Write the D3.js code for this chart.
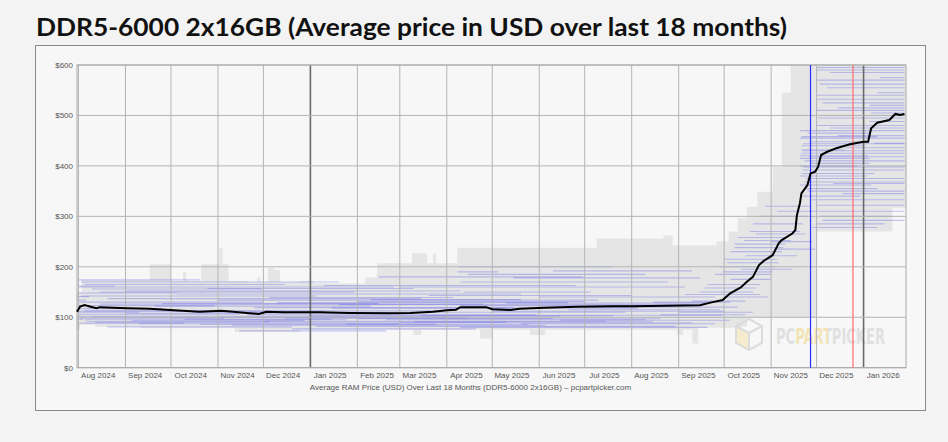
<!DOCTYPE html>
<html>
<head>
<meta charset="utf-8">
<script src="https://cdn.jsdelivr.net/npm/d3@7"></script>
<style>
  body { margin: 0; background: #f3f3f3; }
  svg { display: block; }
</style>
</head>
<body>
<svg id="chart" width="948" height="442"></svg>
<script>
// Average price (black line)
var avgDates = ["2024-07-31","2024-08-02","2024-08-05","2024-08-09","2024-08-13","2024-08-15","2024-09-02","2024-09-17","2024-09-30",
  "2024-10-20","2024-11-03","2024-11-11","2024-11-20","2024-11-28","2024-12-03","2024-12-14","2025-01-01","2025-01-07","2025-01-27",
  "2025-02-22","2025-03-08","2025-03-23","2025-04-01","2025-04-07","2025-04-10","2025-04-27","2025-05-01","2025-05-13","2025-05-19",
  "2025-06-04","2025-06-26","2025-07-20","2025-08-02","2025-09-15","2025-09-22","2025-09-30","2025-10-05","2025-10-12","2025-10-16",
  "2025-10-20","2025-10-24","2025-10-27","2025-11-02","2025-11-06","2025-11-08","2025-11-15","2025-11-17","2025-11-18","2025-11-20",
  "2025-11-21","2025-11-25","2025-11-27","2025-11-30","2025-12-02","2025-12-04","2025-12-08","2025-12-14","2025-12-23","2026-01-01",
  "2026-01-04","2026-01-06","2026-01-10","2026-01-18","2026-01-22","2026-01-25","2026-01-28"];
var avgPrices = [111,121,124,121,118,120,118,117,114.5,
  111,113,111,108.5,106.5,111,110,110,110,108.4,
  108,108.5,111,114,115,120,120,116,114.5,117,
  119,121,122,122,123.7,129,134,147.5,159,170.5,
  180,203.5,211.5,223,246.5,253,266,273,302,326,
  345.7,362,385,388.5,398,421.6,428,435,443,448,
  448,474.5,485.6,491,503,501,503];

// Min / max price envelope (grey band, step starts)
var bandDates = ["2024-07-31","2024-08-02","2024-08-03","2024-08-12","2024-09-11","2024-09-17","2024-10-01","2024-10-09","2024-10-11",
  "2024-10-21","2024-11-02","2024-11-04","2024-11-08","2024-11-12","2024-11-21","2024-11-27","2024-11-29","2024-12-04","2024-12-08",
  "2024-12-12","2024-12-25","2025-01-03","2025-02-06","2025-02-14","2025-03-09","2025-03-10","2025-03-15","2025-03-19","2025-03-23",
  "2025-03-25","2025-04-08","2025-04-23","2025-05-01","2025-05-26","2025-06-05","2025-07-09","2025-08-22","2025-08-28","2025-08-31",
  "2025-09-04","2025-09-10","2025-09-14","2025-09-26","2025-10-04","2025-10-10","2025-10-16","2025-10-23","2025-11-02","2025-11-08",
  "2025-11-14","2025-12-01","2026-01-20","2026-01-29"];
var bandLow = [75,85,85,81,78,78,78,78,78,
  78,78,78,78,71,71,71,71,71,71,
  71,75,75,75,75,75,65,75,75,75,
  75,75,58,75,65,75,75,75,75,65,
  75,48,79,79,79,81,100,100,100,100,
  100,270,316,316];
var bandHigh = [150,150,174,174,174,205,172,190,172,
  205,238,205,172,172,170,180,170,198,194,
  170,172,167,179,207,227,227,227,207,227,
  207,238,238,238,238,238,256,262,242,242,
  242,242,242,250,270,296,319,349,398,545,
  600,600,600,600];

// Individual listing prices (faint blue segments): start, end, price
var listings = [
  ["2024-07-31","2024-08-08",141],["2024-07-31","2024-08-06",134],["2024-07-31","2024-08-04",96],
  ["2024-08-01","2024-10-20",174],["2024-08-03","2025-01-20",170],["2024-08-05","2024-12-15",165],
  ["2024-08-01","2025-02-25",160],["2024-08-10","2024-11-30",156],["2024-09-01","2025-04-10",152],
  ["2024-08-01","2024-10-05",148],["2024-10-05","2025-05-20",146],["2024-08-03","2025-01-05",142],
  ["2024-08-20","2025-03-15",137],["2024-11-01","2025-07-10",134],["2024-08-01","2024-12-01",130],
  ["2024-12-10","2025-06-20",129],["2024-08-15","2025-04-25",126],["2024-09-20","2025-02-10",122],
  ["2024-08-01","2024-09-25",117],["2025-01-15","2025-08-05",118],["2024-08-05","2025-03-30",113],
  ["2024-10-15","2025-07-28",110],["2024-08-01","2024-11-15",106],["2024-11-20","2025-05-30",105],
  ["2024-08-01","2025-06-15",102],["2024-08-10","2024-10-25",100],["2024-10-01","2025-04-15",99],
  ["2025-02-01","2025-08-20",97],["2024-08-05","2025-01-25",95],["2024-09-05","2024-12-28",93],
  ["2024-12-01","2025-07-15",92],["2024-08-12","2025-05-10",90],["2025-03-01","2025-09-10",89],
  ["2024-08-01","2024-10-10",88],["2024-10-20","2025-03-25",86],["2024-11-10","2025-06-05",84],
  ["2025-01-05","2025-08-30",82],["2024-08-20","2024-12-20",81],["2024-12-20","2025-04-20",77],
  ["2025-04-10","2025-09-20",80],["2024-11-15","2025-02-20",73],["2025-04-12","2025-07-05",150],
  ["2025-04-08","2025-05-05",190],["2025-04-10","2025-08-25",170],["2025-03-01","2025-09-05",160],
  ["2025-05-15","2025-09-15",178],["2025-02-15","2025-06-30",180],["2025-06-01","2025-09-25",140],
  ["2025-01-20","2025-09-15",125],["2025-05-01","2025-10-01",112],["2025-03-15","2025-09-30",104],
  ["2025-06-15","2025-10-05",94],["2025-02-10","2025-05-20",135],["2025-07-01","2025-10-10",120],
  ["2024-08-01","2024-09-10",110],["2024-08-02","2024-11-05",98],["2024-08-01","2025-01-10",112],
  ["2024-09-01","2025-02-05",108],["2024-10-10","2025-01-15",96],["2024-11-01","2025-04-01",100],
  ["2024-12-15","2025-06-10",98],["2025-01-01","2025-07-20",103],["2025-02-20","2025-08-10",95],
  ["2025-03-10","2025-08-15",91],["2024-08-06","2024-12-05",91],["2024-09-10","2025-03-01",87],
  ["2025-01-25","2025-05-25",86],["2025-05-20","2025-09-25",87],["2024-08-01","2024-08-25",162],
  ["2024-08-15","2025-01-30",150],["2024-10-25","2025-03-10",157],["2025-01-10","2025-06-25",163],
  ["2025-04-09","2025-07-20",200],["2025-04-15","2025-08-10",185],["2025-06-10","2025-09-10",192],
  ["2024-12-05","2025-04-05",139],["2025-03-20","2025-08-01",143],["2024-09-25","2025-02-15",127],
  ["2025-02-01","2025-07-01",131],["2025-05-10","2025-09-20",128],["2024-11-25","2025-05-15",119],
  ["2025-04-10","2025-09-01",123],["2025-06-20","2025-09-28",115],["2024-08-01","2024-10-30",123],
  ["2025-09-15","2025-10-20",150],["2025-09-20","2025-10-25",165],["2025-09-25","2025-11-01",185],
  ["2025-09-28","2025-11-03",200],["2025-10-01","2025-11-05",215],["2025-10-05","2025-11-08",230],
  ["2025-10-08","2025-11-10",245],["2025-10-10","2025-11-12",258],["2025-10-01","2025-10-30",140],
  ["2025-09-10","2025-10-15",132],["2025-10-12","2025-11-15",195],["2025-10-15","2025-11-18",222],
  ["2025-10-18","2025-11-20",270],["2025-10-20","2025-11-22",285],["2025-10-25","2025-11-25",300],
  ["2025-10-28","2025-11-27",320],["2025-09-01","2025-10-20",110],["2025-08-15","2025-10-05",130],
  ["2025-10-05","2025-11-01",175],["2025-11-01","2025-11-28",250],["2025-11-03","2025-11-30",235],
  ["2025-11-05","2025-12-01",310],["2025-09-18","2025-10-22",158],["2025-09-30","2025-11-02",190],
  ["2025-10-03","2025-11-06",208],["2025-10-08","2025-11-09",238],["2025-10-14","2025-11-14",252],
  ["2025-10-22","2025-11-24",265],["2025-09-05","2025-10-25",145],["2025-08-20","2025-10-15",105],
  ["2025-11-20","2026-01-06",470],["2025-11-20","2026-01-28",455],["2025-11-21","2026-01-02",440],
  ["2025-11-22","2026-01-28",430],["2025-11-20","2026-01-04",420],["2025-11-23","2026-01-28",410],
  ["2025-11-20","2025-12-28",400],["2025-11-22","2026-01-28",392],["2025-11-21","2026-01-08",385],
  ["2025-11-24","2026-01-28",375],["2025-11-20","2026-01-06",362],["2025-11-25","2026-01-28",350],
  ["2025-11-22","2025-12-30",340],["2025-11-28","2026-01-28",333],["2025-12-01","2026-01-28",322],
  ["2025-12-03","2026-01-20",300],["2025-12-01","2026-01-15",285],["2025-11-28","2026-01-10",278],
  ["2025-12-01","2026-01-28",480],["2025-12-02","2026-01-28",495],["2025-12-01","2026-01-28",510],
  ["2025-12-05","2026-01-28",525],["2025-12-01","2026-01-28",540],["2025-12-08","2026-01-28",555],
  ["2025-12-01","2026-01-28",570],["2025-12-10","2026-01-28",585],["2025-12-01","2026-01-28",595],
  ["2025-11-25","2026-01-05",465],["2025-11-26","2026-01-05",448],["2025-11-20","2026-01-05",415],
  ["2025-11-27","2026-01-05",405],["2026-01-05","2026-01-28",520],["2026-01-06","2026-01-28",505],
  ["2026-01-05","2026-01-28",488],["2026-01-06","2026-01-28",470],["2026-01-08","2026-01-28",445],
  ["2026-01-10","2026-01-28",545],["2026-01-12","2026-01-28",575],["2025-12-15","2026-01-28",460],
  ["2025-12-20","2026-01-28",436],["2025-12-12","2026-01-28",365],["2025-12-18","2026-01-28",345],
  ["2025-11-21","2026-01-28",425],["2025-11-21","2026-01-10",458],["2025-11-22","2026-01-28",398],
  ["2025-11-20","2026-01-03",380],["2025-11-23","2026-01-28",368],["2025-11-24","2026-01-10",355],
  ["2025-12-01","2026-01-28",590],["2025-12-03","2026-01-28",562],["2025-12-01","2026-01-28",532],
  ["2025-12-06","2026-01-28",500],["2025-12-15","2026-01-28",515],["2025-12-01","2026-01-28",310],
  ["2025-12-05","2026-01-28",292],["2025-12-10","2026-01-28",475],["2025-11-21","2025-12-20",432],
  ["2025-11-22","2026-01-28",444],["2025-11-26","2026-01-28",418]
];

// Marker lines (Thanksgiving / Christmas)
var markerDates = ["2025-11-27","2025-12-25"];
var markerColors = ["#2b2bff","#ff6b6b"];

var yTicks = [0,100,200,300,400,500,600];

(function() {
  var parse = d3.timeParse("%Y-%m-%d");
  var svg = d3.select("#chart");

  var plotLeft = 77, plotRight = 906, plotTop = 65, plotBottom = 367.7;

  var x = d3.scaleTime()
    .domain([parse("2024-07-31"), parse("2026-01-29")])
    .range([plotLeft, plotRight]);
  var y = d3.scaleLinear().domain([0, 600]).range([plotBottom, plotTop]);

  // Title
  svg.append("text")
    .attr("x", 36).attr("y", 36)
    .attr("textLength", 751)
    .attr("lengthAdjust", "spacingAndGlyphs")
    .style("font-family", "Lato, 'Open Sans', sans-serif")
    .style("font-weight", "bold")
    .style("font-size", "24px")
    .style("fill", "#111")
    .text("DDR5-6000 2x16GB (Average price in USD over last 18 months)");

  // Frame box
  svg.append("rect")
    .attr("x", 35.5).attr("y", 45.5).attr("width", 890).attr("height", 365)
    .attr("fill", "#f7f7f7").attr("stroke", "#8a8a8a");

  var band = bandDates.map(function(d, i) {
    return { date: parse(d), lo: bandLow[i], hi: bandHigh[i] };
  });

  // Grey min-max band
  svg.append("path")
    .datum(band)
    .attr("fill", "#e5e5e5")
    .attr("d", d3.area()
      .curve(d3.curveStepAfter)
      .x(function(d) { return x(d.date); })
      .y0(function(d) { return y(d.lo); })
      .y1(function(d) { return y(d.hi); }));

  // Listing segments
  svg.append("g").selectAll("line")
    .data(listings)
    .enter().append("line")
    .attr("x1", function(d) { return x(parse(d[0])); })
    .attr("x2", function(d) { return x(parse(d[1])); })
    .attr("y1", function(d) { return y(d[2]); })
    .attr("y2", function(d) { return y(d[2]); })
    .attr("stroke", "#3232e6")
    .attr("stroke-opacity", 0.26)
    .attr("stroke-width", 1.1);

  // Watermark (logo cube + wordmark, "PART" tinted with a hard-stop gradient)
  var grad = svg.append("defs").append("linearGradient")
    .attr("id", "wmGrad")
    .attr("gradientUnits", "userSpaceOnUse")
    .attr("x1", 776).attr("x2", 885).attr("y1", 0).attr("y2", 0);
  [[0, "#dedede"], [0.17, "#dedede"], [0.17, "#f3e2ae"], [0.48, "#f3e2ae"], [0.48, "#dedede"], [1, "#dedede"]]
    .forEach(function(s) {
      grad.append("stop").attr("offset", s[0]).attr("stop-color", s[1]);
    });

  var wm = svg.append("g").attr("opacity", 0.9);
  wm.append("path")
    .attr("d", "M736,326 L749,333 L749,350 L736,343 Z")
    .attr("fill", "#f4ebc9");
  wm.append("path")
    .attr("d", "M749,319 L762,326 L762,343 L749,350 L736,343 L736,326 Z M736,326 L749,333 L762,326 M749,333 L749,350")
    .attr("fill", "none").attr("stroke", "#dadada").attr("stroke-width", 2);
  wm.append("text")
    .attr("x", 776).attr("y", 344)
    .attr("textLength", 109)
    .attr("lengthAdjust", "spacingAndGlyphs")
    .attr("fill", "url(#wmGrad)")
    .style("font-family", "'DejaVu Sans Condensed', 'Liberation Sans Narrow', sans-serif")
    .style("font-weight", "bold")
    .style("font-size", "21px")
    .text("PCPARTPICKER");

  // Grid
  var months = d3.timeMonth.range(parse("2024-08-01"), parse("2026-01-29"));
  svg.append("g").selectAll("line")
    .data(months)
    .enter().append("line")
    .attr("x1", function(d) { return x(d); })
    .attr("x2", function(d) { return x(d); })
    .attr("y1", plotTop).attr("y2", plotBottom)
    .attr("stroke", function(d) { return d.getMonth() == 0 ? "#6a6a6a" : "#b4b4b4"; })
    .attr("stroke-width", function(d) { return d.getMonth() == 0 ? 1.6 : 1; });

  svg.append("g").selectAll("line")
    .data(yTicks)
    .enter().append("line")
    .attr("x1", plotLeft).attr("x2", plotRight)
    .attr("y1", function(d) { return y(d); })
    .attr("y2", function(d) { return y(d); })
    .attr("stroke", "#b4b4b4");

  svg.append("rect")
    .attr("x", plotLeft).attr("y", plotTop)
    .attr("width", plotRight - plotLeft).attr("height", plotBottom - plotTop)
    .attr("fill", "none").attr("stroke", "#a8a8a8");

  // Marker lines
  svg.append("g").selectAll("line")
    .data(markerDates)
    .enter().append("line")
    .attr("x1", function(d) { return x(parse(d)); })
    .attr("x2", function(d) { return x(parse(d)); })
    .attr("y1", plotTop).attr("y2", plotBottom)
    .attr("stroke", function(d, i) { return markerColors[i]; })
    .attr("stroke-width", 1.2);

  // Average line
  svg.append("path")
    .datum(avgDates.map(function(d, i) { return [parse(d), avgPrices[i]]; }))
    .attr("fill", "none")
    .attr("stroke", "#000")
    .attr("stroke-width", 2)
    .attr("d", d3.line()
      .x(function(d) { return x(d[0]); })
      .y(function(d) { return y(d[1]); }));

  // Axis labels
  var labelStyle = function(sel) {
    sel.style("font-family", "'Liberation Sans', Arial, sans-serif")
      .style("font-size", "8px")
      .style("fill", "#555");
  };

  svg.append("g").selectAll("text")
    .data(yTicks)
    .enter().append("text")
    .attr("x", 73)
    .attr("y", function(d) { return y(d) + 3; })
    .attr("text-anchor", "end")
    .call(labelStyle)
    .text(function(d) { return "$" + d; });

  var fmt = d3.timeFormat("%b %Y");
  svg.append("g").selectAll("text")
    .data(d3.timeMonth.range(parse("2024-08-01"), parse("2026-01-02")))
    .enter().append("text")
    .attr("x", function(d) { return x(d3.timeDay.offset(d, 13)); })
    .attr("y", 378)
    .attr("text-anchor", "middle")
    .call(labelStyle)
    .text(function(d) { return fmt(d); });

  svg.append("text")
    .attr("x", 470.5).attr("y", 390)
    .attr("text-anchor", "middle")
    .call(labelStyle)
    .text("Average RAM Price (USD) Over Last 18 Months (DDR5-6000 2x16GB) \u2013 pcpartpicker.com");
})();
</script>
</body>
</html>
